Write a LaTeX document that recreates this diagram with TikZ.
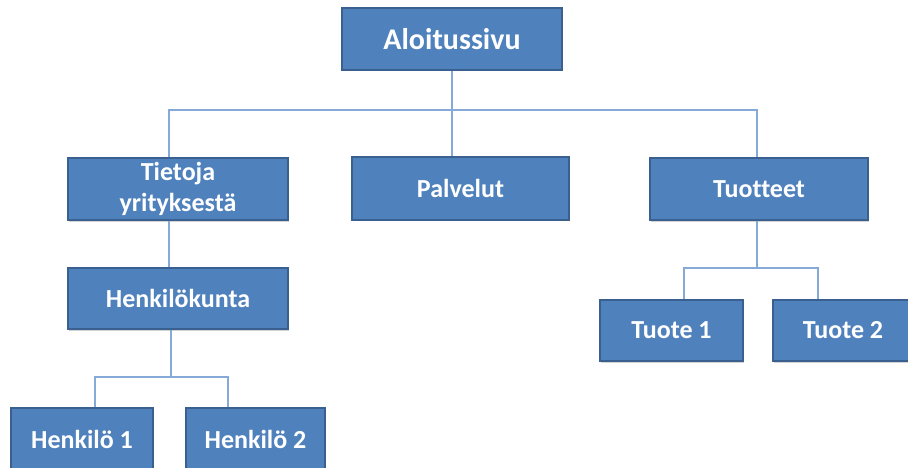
\documentclass[tikz,border=0pt]{standalone}
\usepackage{fontspec}
\setmainfont{Carlito}[Ligatures=NoCommon]
\usepackage{xcolor}
\usepackage{tikz}
\usetikzlibrary{positioning, shapes, arrows.meta, calc, shadows}

\definecolor{boxblue}{HTML}{4F81BD}
\definecolor{boxedge}{HTML}{3A6090}
\definecolor{linkblue}{HTML}{86AAD8}

\begin{document}
\begin{tikzpicture}[x=1pt, y=-1pt,
    orgbox/.style={draw=boxedge, line width=2pt, fill=boxblue, text=white, align=center,
        font=\fontsize{26}{31}\selectfont\bfseries, inner sep=0pt,
        drop shadow={shadow xshift=1pt, shadow yshift=-1.5pt, opacity=0.35}},
    link/.style={draw=linkblue, line width=2.6pt}]
    \useasboundingbox (0,0) rectangle (908,468);
    \node[orgbox, minimum width=220pt, minimum height=62pt, font=\fontsize{30}{36}\selectfont\bfseries] (aloitus) at (452,39) {Aloitussivu};
    \node[orgbox, minimum width=220pt, minimum height=62pt] (tietoja) at (178,189) {Tietoja\\yrityksestä};
    \node[orgbox, minimum width=217pt, minimum height=62pt] (palvelut) at (460.5,188.5) {Palvelut};
    \node[orgbox, minimum width=218pt, minimum height=62pt] (tuotteet) at (759,189) {Tuotteet};
    \node[orgbox, minimum width=220pt, minimum height=61pt] (henkilokunta) at (178,298.5) {Henkilökunta};
    \node[orgbox, minimum width=143pt, minimum height=61pt] (tuote1) at (671.5,330.5) {Tuote 1};
    \node[orgbox, minimum width=140pt, minimum height=61pt] (tuote2) at (843,330.5) {Tuote 2};
    \node[orgbox, minimum width=142pt, minimum height=62pt] (henkilo1) at (82,439) {Henkilö 1};
    \node[orgbox, minimum width=139pt, minimum height=62pt] (henkilo2) at (255.5,439) {Henkilö 2};
    \coordinate (hub) at (452,110);
    \coordinate (hubhk) at (171,377);
    \coordinate (hubtu) at (757,268);
    \draw[link] (aloitus.south) -- (hub);
    \draw[link] ([xshift=-9pt]tietoja.north) |- (hub) -| ([xshift=-2pt]tuotteet.north);
    \draw[link] (hub) -- ([xshift=-8.5pt]palvelut.north);
    \draw[link] ([xshift=-9pt]tietoja.south) -- ([xshift=-9pt]henkilokunta.north);
    \draw[link] ([xshift=-7pt]henkilokunta.south) -- (hubhk);
    \draw[link] ([xshift=13pt]henkilo1.north) |- (hubhk) -| ([xshift=-27.5pt]henkilo2.north);
    \draw[link] ([xshift=-2pt]tuotteet.south) -- (hubtu);
    \draw[link] ([xshift=12.5pt]tuote1.north) |- (hubtu) -| ([xshift=-25pt]tuote2.north);
\end{tikzpicture}
\end{document}
